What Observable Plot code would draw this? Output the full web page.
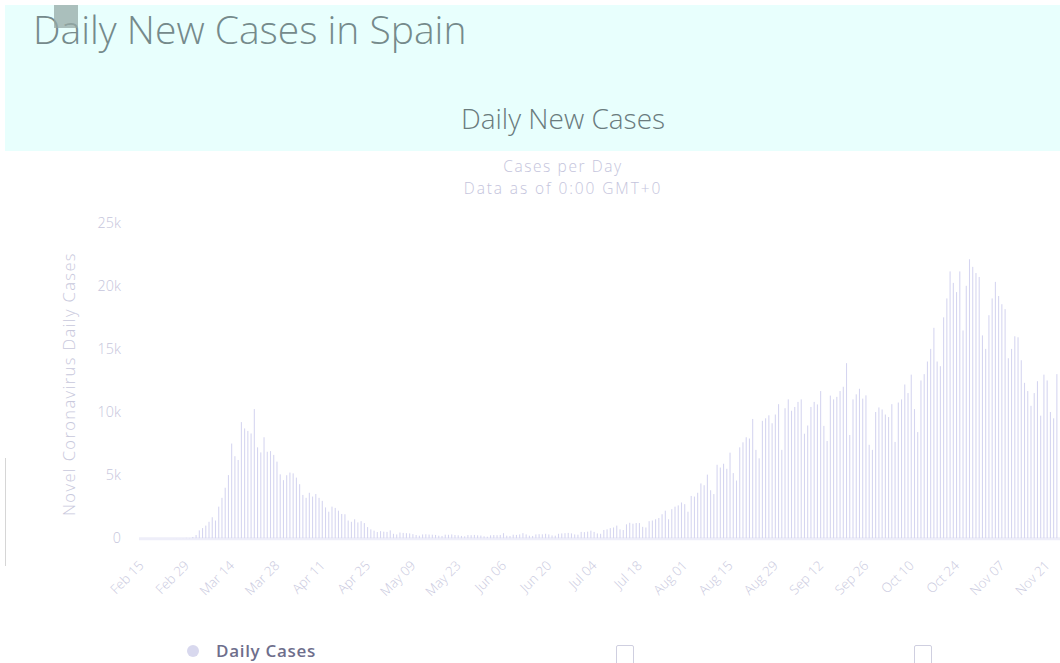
<!DOCTYPE html>
<html>
<head>
<meta charset="utf-8">
<script src="https://cdn.jsdelivr.net/npm/d3@7"></script>
<script src="https://cdn.jsdelivr.net/npm/@observablehq/plot@0.6"></script>
<style>
  html, body { margin: 0; padding: 0; }
  body { width: 1060px; height: 663px; overflow: hidden; background: #ffffff; position: relative; font-family: "Open Sans", sans-serif; }
  .abs { position: absolute; }
</style>
</head>
<body>
<div class="abs" style="left:5px;top:5px;width:1055px;height:146px;background:#e8fffd;"></div>
<div class="abs" style="left:33px;top:2px;font-size:39px;font-weight:300;color:#758a8b;white-space:nowrap;">Daily New Cases in Spain</div>
<div class="abs" style="left:54px;top:5px;width:24px;height:23px;background:rgba(150,170,165,0.75);"></div>
<div class="abs" style="left:5px;top:458px;width:1px;height:108px;background:#d6d6d6;"></div>

<div class="abs" style="left:363px;top:99px;width:400px;text-align:center;font-size:28px;font-weight:300;color:#6a7b7d;white-space:nowrap;">Daily New Cases</div>
<div class="abs" style="left:313px;top:155px;width:500px;text-align:center;font-size:15.5px;font-weight:300;letter-spacing:1.6px;color:#c4c4dc;white-space:nowrap;">Cases per Day</div>
<div class="abs" style="left:313px;top:177px;width:500px;text-align:center;font-size:15.5px;font-weight:300;letter-spacing:1.9px;color:#c4c4dc;white-space:nowrap;">Data as of 0:00 GMT+0</div>

<div class="abs" style="left:68px;top:384px;width:0;height:0;">
  <div style="position:absolute;left:0;top:0;transform:translate(-50%,-50%) rotate(-90deg);font-size:16.5px;font-weight:300;letter-spacing:1.4px;color:#c8c8dc;white-space:nowrap;">Novel Coronavirus Daily Cases</div>
</div>

<div id="chart" class="abs" style="left:0;top:200px;"></div>

<div class="abs" style="left:187px;top:645px;width:12px;height:12px;border-radius:50%;background:#d8d8ee;"></div>
<div class="abs" style="left:216px;top:639px;font-size:17px;font-weight:600;letter-spacing:0.7px;color:#6e6e8c;white-space:nowrap;">Daily Cases</div>
<div class="abs" style="left:616px;top:645px;width:16px;height:20px;border:1.5px solid #cfcfe0;border-radius:2px;"></div>
<div class="abs" style="left:914px;top:645px;width:16px;height:20px;border:1.5px solid #cfcfe0;border-radius:2px;"></div>

<script>
// ---- data ----
const startDate = "2020-02-15";
// daily new cases, one value per day from Feb 15
const dailyCases = [
  0,0,0,0,0,0,0,
  0,0,0,2,5,4,10,
  30,20,100,250,620,800,1000,
  1300,1660,1400,2500,3200,4000,5000,
  7500,6500,6200,9200,8700,8500,8300,
  10230,7200,6800,8000,6850,6900,6600,
  6070,5060,4600,4990,5200,5140,4800,
  4280,3430,3200,3600,3300,3500,3200,
  2960,2440,2100,2500,2400,2180,1920,
  1900,1400,1300,1500,1250,1350,1200,
  880,700,600,490,560,520,500,
  620,350,300,450,420,400,380,
  320,250,200,300,310,290,280,
  260,200,180,280,270,300,250,
  230,180,150,250,240,260,230,
  210,150,120,230,250,240,260,
  400,200,180,280,260,300,400,
  300,200,180,300,320,310,350,
  300,220,200,350,380,400,420,
  380,300,280,500,480,520,600,
  500,380,350,650,700,800,850,
  1000,700,650,1100,1220,1150,1200,
  1200,900,850,1350,1400,1500,1600,
  1900,2180,1500,2300,2500,2600,2830,
  2700,2100,3350,3300,3600,4340,4200,
  5040,3800,3500,5820,5600,5900,5500,
  6780,5160,4570,7200,7600,8000,7900,
  9450,7000,6330,9300,9500,9740,9110,
  9800,10620,7000,10300,11000,10100,10400,
  10800,11000,8280,8930,10400,10800,10600,
  11660,8900,7700,11300,11000,11200,11660,
  12000,13870,8180,11000,11400,11840,11060,
  11320,7400,7000,10000,10360,10200,9800,
  9600,10620,7630,10750,11000,12180,11500,
  12960,10230,8410,12500,13000,14000,15000,
  16670,14000,13630,17500,19000,21140,20230,
  19500,21140,16460,20000,22100,21500,21010,
  20700,16070,15000,17670,19000,20310,19190,
  18540,18150,14260,15000,16000,15920,14100,
  12310,11660,10490,11500,12440,9710,12960,
  12500,10000,9500,13000
];
const xTickLabels = ["Feb 15","Feb 29","Mar 14","Mar 28","Apr 11","Apr 25","May 09","May 23","Jun 06","Jun 20","Jul 04","Jul 18","Aug 01","Aug 15","Aug 29","Sep 12","Sep 26","Oct 10","Oct 24","Nov 07","Nov 21"];
const yTickValues = [0, 5000, 10000, 15000, 20000, 25000];
const yTickLabels = ["0","5k","10k","15k","20k","25k"];
const seriesName = "Daily Cases";

// ---- build ----
const t0 = d3.utcParse("%Y-%m-%d")(startDate);
const rows = dailyCases.map((v, i) => ({ date: d3.utcDay.offset(t0, i), cases: v }));
const parseTick = d3.utcParse("%b %d %Y");
const tickDates = xTickLabels.map(s => d3.utcHour.offset(parseTick(s + " 2020"), 12));
const xLabelMap = new Map(tickDates.map((d, i) => [+d, xTickLabels[i]]));
const yLabelMap = new Map(yTickValues.map((v, i) => [v, yTickLabels[i]]));

const chart = Plot.plot({
  width: 1075,
  height: 420,
  marginTop: 23,
  marginBottom: 77,
  marginLeft: 141,
  marginRight: 0,
  style: { background: "transparent", fontFamily: "Open Sans, sans-serif", overflow: "visible" },
  x: { type: "utc", domain: [t0, d3.utcDay.offset(t0, 284)], range: [141.4, 141.4 + 284 * 3.282] },
  y: { domain: [0, 25000] },
  marks: [
    Plot.ruleY([0], { stroke: "#eeeef9", strokeWidth: 3 }),
    Plot.rectY(rows, { x: "date", y: "cases", interval: "day", fill: "#d5d5f0", insetLeft: 1.1, insetRight: 1.1 }),
    Plot.axisY({ ticks: yTickValues, tickFormat: d => yLabelMap.get(d), tickSize: 0, tickPadding: 19, fontSize: 14.5, fontWeight: 300, letterSpacing: 1, fill: "#c6c6dc", label: null }),
    Plot.axisX({ ticks: tickDates, tickFormat: d => xLabelMap.get(+d), tickRotate: -45, tickSize: 0, tickPadding: 25, fontSize: 13.5, fontWeight: 300, letterSpacing: 1.5, fill: "#cacae0", label: null })
  ]
});
document.getElementById("chart").appendChild(chart);
</script>
</body>
</html>
